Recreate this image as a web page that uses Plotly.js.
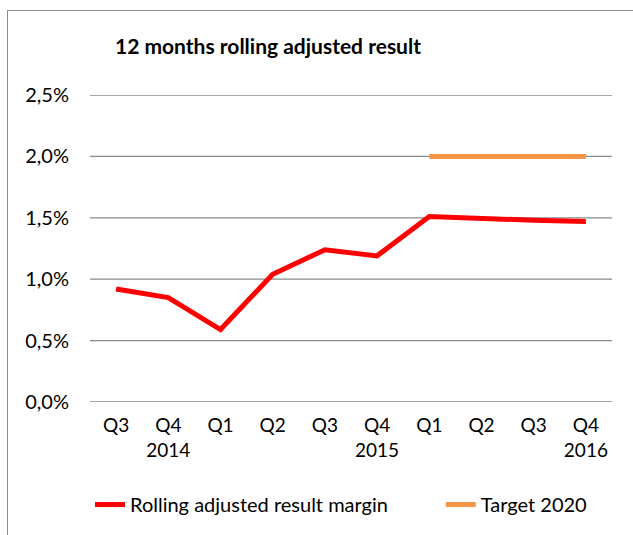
<!DOCTYPE html>
<html><head><meta charset="utf-8">
<script src="https://cdn.plot.ly/plotly-3.0.1.min.js"></script>
<style>
html,body{margin:0;padding:0;background:#fff;overflow:hidden;}
#frame{position:absolute;left:7px;top:10px;width:700px;height:600px;border:1.5px solid #8c8c8c;pointer-events:none;z-index:5;}
#chart{position:absolute;left:0;top:0;width:633px;height:535px;}
</style></head>
<body>
<div id="chart"></div>
<div id="frame"></div>
<script>
const categories = ["Q3 2014","Q4 2014","Q1 2015","Q2 2015","Q3 2015","Q4 2015","Q1 2016","Q2 2016","Q3 2016","Q4 2016"];
const tickLabels = ["Q3","Q4<br>2014","Q1","Q2","Q3","Q4<br>2015","Q1","Q2","Q3","Q4<br>2016"];
const rollingMargin = [0.0092,0.0085,0.0059,0.0104,0.0124,0.0119,0.0151,0.0149,0.0148,0.0147];
const targetCategories = ["Q1 2016","Q2 2016","Q3 2016","Q4 2016"];
const target2020 = [0.02,0.02,0.02,0.02];
const yTicks = [0,0.005,0.01,0.015,0.02,0.025];

const font = "Lato, 'Open Sans', sans-serif";
const traces = [
  {x: categories, y: rollingMargin, type:'scatter', mode:'lines', name:'Rolling adjusted result margin',
   line:{color:'#ff0000', width:5}, legend:'legend'},
  {x: targetCategories, y: target2020, type:'scatter', mode:'lines', name:'Target 2020',
   line:{color:'#f79646', width:5}, legend:'legend2'}
];
const gridShapes = yTicks.map(v => ({type:'line', xref:'paper', x0:0, x1:1, yref:'y', y0:v, y1:v,
  line:{color:'#8a8a8a', width:1.3}, layer:'below'}));
const legendBase = {orientation:'h', xanchor:'left', y:-0.334, yanchor:'middle',
  font:{family:font, size:20, color:'#000'}, bgcolor:'rgba(0,0,0,0)'};
const layout = {
  width:633, height:535,
  margin:{l:90, r:21, t:95, b:133, autoexpand:false},
  paper_bgcolor:'#fff', plot_bgcolor:'#fff',
  separators:',.',
  font:{family:font, size:18, color:'#000'},
  title:{text:'<b>12 months rolling adjusted result</b>', font:{family:font, size:21, color:'#000'},
         xref:'paper', x:0.341, xanchor:'center', yref:'container', y:0.912, yanchor:'middle'},
  xaxis:{type:'category', categoryorder:'array', categoryarray:categories,
         tickvals:categories, ticktext:tickLabels, range:[-0.5,9.5],
         showgrid:false, zeroline:false, showline:false, ticks:'', ticklen:0, ticklabelstandoff:10,
         tickfont:{family:font, size:19, color:'#000'}},
  yaxis:{range:[0,0.025], tickvals:yTicks, tickformat:'.1%', showgrid:false,
         zeroline:false, showline:false, ticks:'', ticklabelstandoff:20,
         tickfont:{family:font, size:20, color:'#000'}},
  shapes: gridShapes,
  showlegend:true,
  legend: Object.assign({}, legendBase, {x:0}),
  legend2: Object.assign({}, legendBase, {x:0.672})
};
Plotly.newPlot('chart', traces, layout, {displayModeBar:false, staticPlot:true});
</script>
</body></html>
